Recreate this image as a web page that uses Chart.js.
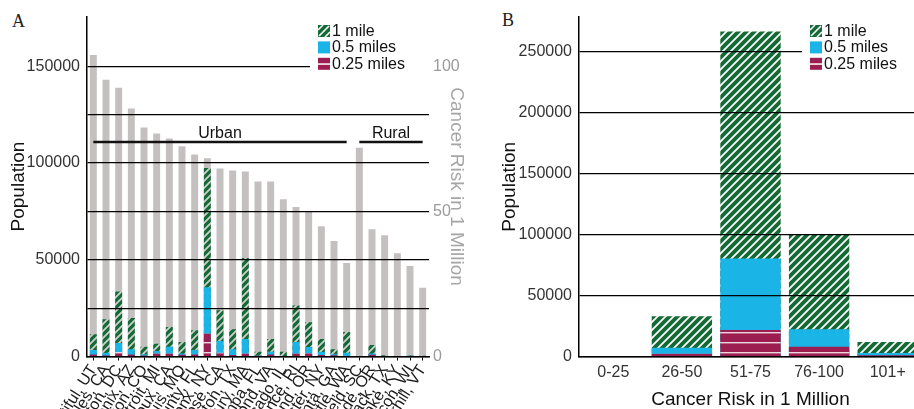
<!DOCTYPE html>
<html>
<head>
<meta charset="utf-8">
<script src="https://cdn.jsdelivr.net/npm/chart.js@4.4.1/dist/chart.umd.min.js"></script>
<style>
  html, body { margin: 0; padding: 0; background: #fff; overflow: hidden; width: 914px; height: 409px; position: relative; }
  .panel-tag { position: absolute; font-family: 'Liberation Serif', 'DejaVu Serif', serif; font-size: 18px; line-height: 1; color: #222; }
  #chartA { position: absolute; left: 0; top: 0; }
  #chartB { position: absolute; left: 470px; top: 0; }
</style>
</head>
<body>
<div class="panel-tag" style="left:12px;top:12px">A</div>
<div class="panel-tag" style="left:502px;top:11px">B</div>
<canvas id="chartA" width="470" height="520"></canvas>
<canvas id="chartB" width="452" height="409"></canvas>
<script>
// Panel A: monitoring sites (urban first, then rural)
const sites = [
  'Bountiful, UT', 'Los Angeles, CA', 'Washington, DC', 'Phoenix, AZ', 'Grand Junction, CO',
  'Detroit, MI', 'Rubidoux, CA', 'St. Louis, MO', 'Pinellas County, FL', 'Bronx, NY',
  'San Jose, CA', 'Houston, TX', 'Roxbury, MA', 'Tampa, FL', 'Richmond, VA',
  'Chicago, IL', 'Providence, RI', 'Portland, OR', 'Rochester, NY', 'Atlanta, GA',
  'Seattle, WA', 'Chesterfield, SC', 'La Grande, OR', 'Karnack, TX', 'Grayson Lake, KY',
  'Horicon, WI', 'Underhill, VT'
];
// cancer risk in 1 million (right axis)
const riskA = [103.9, 95.3, 92.6, 85.4, 78.9, 76.8, 75.1, 72.4, 69.6, 68.3, 64.8, 64.1, 63.7, 60.3,
  60.3, 54.2, 51.5, 50.0, 44.9, 39.8, 32.2, 71.9, 43.8, 41.8, 35.6, 31.2, 23.7];
// population living within each distance of the site
const mile1A = [11500, 19200, 33600, 19900, 5000, 6600, 15300, 7500, 13600, 97400, 23900, 14100,
  50900, 2400, 9000, 2400, 26400, 17700, 9000, 3800, 12600, 0, 5900, 600, 0, 500, 400];
const mileHalfA = [3300, 2000, 7000, 3800, 1100, 2900, 5000, 1600, 3400, 35800, 8000, 3800,
  9000, 500, 2500, 300, 7500, 4900, 2300, 1200, 2000, 0, 1500, 100, 0, 400, 300];
const mileQuarterA = [1000, 500, 2300, 1000, 500, 1600, 1600, 900, 1000, 11900, 2000, 800,
  1500, 400, 1000, 100, 1500, 1700, 800, 700, 0, 0, 900, 0, 0, 0, 0];
const popTicksA = [0, 25000, 50000, 75000, 100000, 125000, 150000];
const riskTicksA = [0, 50, 100];

// Panel B: population by cancer risk bin
const riskBins = ['0-25', '26-50', '51-75', '76-100', '101+'];
const mile1B = [0, 33300, 266700, 100800, 12200];
const mileHalfB = [0, 7600, 80700, 22800, 3300];
const mileQuarterB = [0, 2700, 22200, 8400, 1400];
const popTicksB = [0, 50000, 100000, 150000, 200000, 250000];

const legendLabels = ['1 mile', '0.5 miles', '0.25 miles'];

const GREEN = '#136a35';
const BLUE = '#1bb4e6';
const RED = '#9c1e50';
const GRAY = '#c4c0bf';
const FONT = "'Liberation Sans', Arial, sans-serif";

Chart.defaults.font.family = FONT;
Chart.defaults.animation = false;

// diagonal hatch for "1 mile"
const makeHatch = (size, stripe) => {
  const c = document.createElement('canvas');
  c.width = size; c.height = size;
  const g = c.getContext('2d');
  g.fillStyle = GREEN;
  g.fillRect(0, 0, size, size);
  g.strokeStyle = stripe;
  g.lineWidth = 1.8;
  g.beginPath();
  g.moveTo(-1, size + 1); g.lineTo(size + 1, -1);
  g.moveTo(-2, 2); g.lineTo(2, -2);
  g.moveTo(size - 2, size + 2); g.lineTo(size + 2, size - 2);
  g.stroke();
  return g.createPattern(c, 'repeat');
};

// red with thin horizontal light lines for "0.25 miles"
const makeLines = () => {
  const c = document.createElement('canvas');
  c.width = 10; c.height = 10;
  const g = c.getContext('2d');
  g.fillStyle = RED;
  g.fillRect(0, 0, 10, 10);
  g.fillStyle = '#eed6de';
  g.fillRect(0, 2, 10, 1.4);
  return g.createPattern(c, 'repeat');
};

const hatchA = makeHatch(7, '#cfcfcf');
const hatchB = makeHatch(8, '#ffffff');
const linesRed = makeLines();

// legend drawn inside the plot on a white box
const boxLegend = {
  id: 'boxLegend',
  afterDraw(chart, args, opts) {
    const { ctx } = chart;
    ctx.save();
    ctx.fillStyle = '#fff';
    ctx.fillRect(opts.x - opts.pad, 20, opts.boxWidth, 54);
    ctx.font = '16px ' + FONT;
    ctx.textBaseline = 'middle';
    legendLabels.forEach((label, i) => {
      const top = 25 + i * 16.4;
      ctx.save();
      ctx.translate(opts.x, top);
      if (i === 0) {
        ctx.fillStyle = GREEN;
        ctx.fillRect(0, 0, 12, 12);
        ctx.strokeStyle = '#fff';
        ctx.lineWidth = 1.6;
        ctx.beginPath();
        ctx.moveTo(1, 11); ctx.lineTo(11, 1);
        ctx.moveTo(7, 12); ctx.lineTo(12, 7);
        ctx.moveTo(0, 5); ctx.lineTo(5, 0);
        ctx.stroke();
      } else if (i === 1) {
        ctx.fillStyle = BLUE;
        ctx.fillRect(0, 0, 12, 12);
      } else {
        ctx.fillStyle = RED;
        ctx.fillRect(0, 0, 12, 12);
        ctx.fillStyle = '#fff';
        ctx.fillRect(0, 5.5, 12, 1.5);
      }
      ctx.restore();
      ctx.fillStyle = '#111';
      ctx.fillText(label, opts.x + 14, top + 6.5);
    });
    ctx.restore();
  }
};

// Urban / Rural brackets above the site bars
const groupLines = {
  id: 'groupLines',
  afterDraw(chart, args, opts) {
    const { ctx } = chart;
    const xs = chart.scales.x, ys = chart.scales.y;
    const yy = ys.getPixelForValue(opts.value);
    ctx.save();
    ctx.strokeStyle = '#111';
    ctx.lineWidth = 2.5;
    ctx.fillStyle = '#111';
    ctx.font = '16px ' + FONT;
    ctx.textAlign = 'center';
    ctx.textBaseline = 'alphabetic';
    opts.groups.forEach(g => {
      const x0 = xs.getPixelForValue(g.from), x1 = xs.getPixelForValue(g.to);
      ctx.beginPath();
      ctx.moveTo(x0, yy); ctx.lineTo(x1, yy);
      ctx.stroke();
      ctx.fillText(g.label, (x0 + x1) / 2, yy - 4);
    });
    ctx.restore();
  }
};

// ---------- Panel A ----------
new Chart(document.getElementById('chartA'), {
  type: 'bar',
  data: {
    labels: sites,
    datasets: [
      { label: 'Cancer risk', data: riskA, yAxisID: 'y1', backgroundColor: GRAY, order: 4 },
      { label: legendLabels[0], data: mile1A, yAxisID: 'y', backgroundColor: hatchA, order: 3 },
      { label: legendLabels[1], data: mileHalfA, yAxisID: 'y', backgroundColor: BLUE, order: 2 },
      { label: legendLabels[2], data: mileQuarterA, yAxisID: 'y', backgroundColor: linesRed, order: 1 }
    ]
  },
  options: {
    responsive: false,
    layout: { padding: { top: 14, right: 0, bottom: 0, left: 0 } },
    datasets: { bar: { grouped: false, barPercentage: 0.55, categoryPercentage: 1, borderWidth: 0 } },
    plugins: {
      legend: { display: false },
      tooltip: { enabled: false },
      boxLegend: { x: 318, pad: 8, boxWidth: 120 },
      groupLines: { value: 110900, groups: [{ label: 'Urban', from: 0, to: 20 }, { label: 'Rural', from: 21, to: 26 }] }
    },
    scales: {
      x: {
        afterFit: s => { s.height = 520 - 356.5; },
        grid: { display: true, drawOnChartArea: false, drawTicks: true, tickLength: 4, offset: false, color: '#000', lineWidth: 1 },
        border: { display: true, color: '#000', width: 1.5, z: 2 },
        ticks: { autoSkip: false, minRotation: 58, maxRotation: 58, padding: 1, color: '#1a1a1a', font: { size: 16 } }
      },
      y: {
        min: 0,
        max: 175640,
        afterFit: s => { s.width = 87; },
        afterBuildTicks: s => { s.ticks = popTicksA.map(v => ({ value: v })); },
        grid: { z: 1, color: '#000', lineWidth: 1.2, drawTicks: false },
        border: { display: true, color: '#000', width: 1.5, z: 2 },
        ticks: { padding: 7, color: '#333', font: { size: 16 }, callback: v => (v % 50000 === 0 ? String(v) : '') },
        title: { display: true, text: 'Population', color: '#111', font: { size: 19 }, padding: { top: 7, bottom: 0 } }
      },
      y1: {
        position: 'right',
        min: 0,
        max: 117.09,
        afterFit: s => { s.width = 41; },
        afterBuildTicks: s => { s.ticks = riskTicksA.map(v => ({ value: v })); },
        grid: { display: false, drawTicks: false },
        border: { display: false },
        ticks: { padding: 4, color: '#9a9a9a', font: { size: 16 } },
        title: { display: true, text: 'Cancer Risk in 1 Million', color: '#a6a6a6', font: { size: 19 }, padding: { top: 2, bottom: 0 } }
      }
    }
  },
  plugins: [boxLegend, groupLines]
});

// ---------- Panel B ----------
new Chart(document.getElementById('chartB'), {
  type: 'bar',
  data: {
    labels: riskBins,
    datasets: [
      { label: legendLabels[0], data: mile1B, backgroundColor: hatchB, order: 3 },
      { label: legendLabels[1], data: mileHalfB, backgroundColor: BLUE, order: 2 },
      { label: legendLabels[2], data: mileQuarterB, backgroundColor: linesRed, order: 1 }
    ]
  },
  options: {
    responsive: false,
    layout: { padding: { top: 14, right: 0, bottom: 0, left: 0 } },
    datasets: { bar: { grouped: false, barPercentage: 0.88, categoryPercentage: 1, borderWidth: 0 } },
    plugins: {
      legend: { display: false },
      tooltip: { enabled: false },
      boxLegend: { x: 340, pad: 8, boxWidth: 130 }
    },
    scales: {
      x: {
        afterFit: s => { s.height = 409 - 357; },
        grid: { display: false, drawTicks: false },
        border: { display: true, color: '#000', width: 1.5, z: 2 },
        ticks: { padding: 5.5, color: '#333', font: { size: 16 } },
        title: { display: true, text: 'Cancer Risk in 1 Million', color: '#111', font: { size: 19 }, padding: { top: 0, bottom: -2 } }
      },
      y: {
        min: 0,
        max: 278860,
        afterFit: s => { s.width = 109; },
        afterBuildTicks: s => { s.ticks = popTicksB.map(v => ({ value: v })); },
        grid: { z: 1, color: '#000', lineWidth: 1.2, drawTicks: false },
        border: { display: true, color: '#000', width: 1.5, z: 2 },
        ticks: { padding: 7, color: '#333', font: { size: 16 }, callback: v => String(v) },
        title: { display: true, text: 'Population', color: '#111', font: { size: 19 }, padding: { top: 28.6, bottom: 0 } }
      }
    }
  },
  plugins: [boxLegend]
});
</script>
</body>
</html>
